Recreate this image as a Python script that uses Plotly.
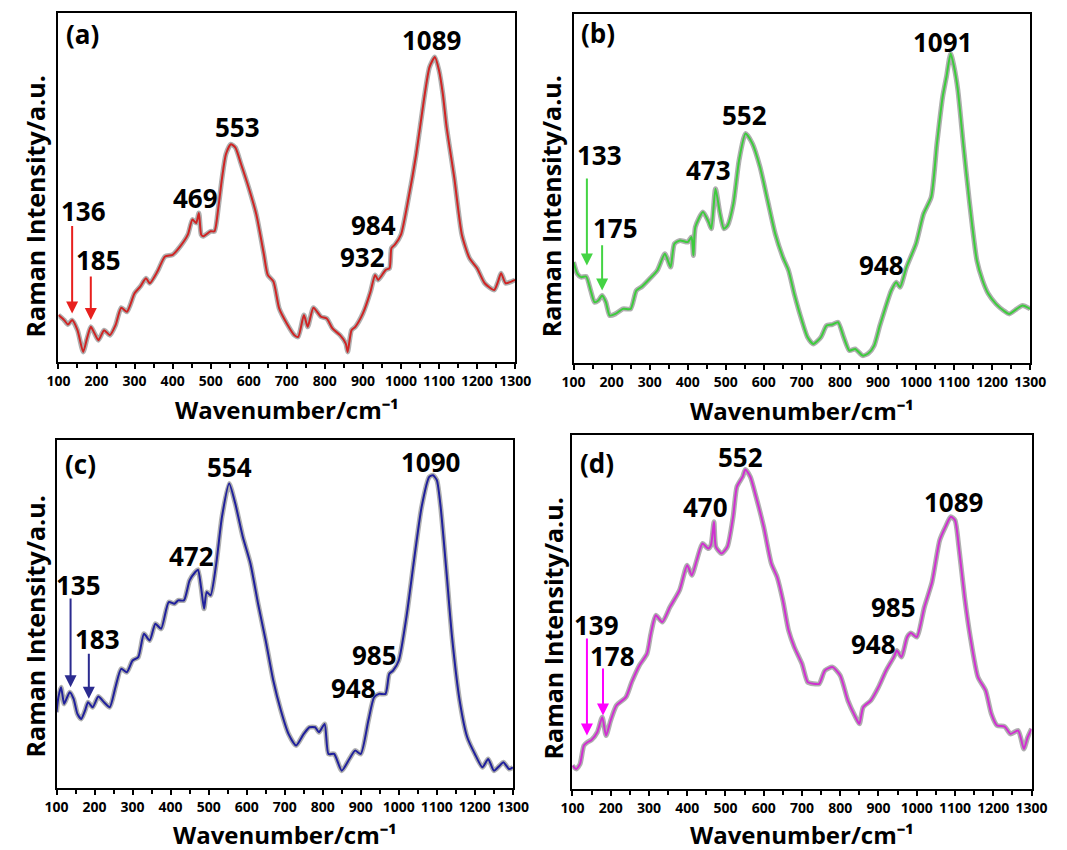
import plotly.graph_objects as go

# ---------------- data (arbitrary units) ----------------
wn_a = [100, 115, 125, 136, 150, 165, 175, 185, 195, 205, 220, 235, 250, 265, 280, 300, 315, 330, 340, 360,
        380, 400, 420, 440, 452, 462, 469, 475, 480, 500, 510, 520, 530, 540, 553, 565, 580, 600, 620, 640,
        650, 665, 680, 700, 720, 730, 745, 755, 770, 790, 805, 820, 840, 855, 860, 870, 880, 900, 920, 932,
        940, 960, 970, 975, 984, 1000, 1020, 1040, 1060, 1075, 1089, 1100, 1110, 1120, 1140, 1160, 1180,
        1200, 1220, 1245, 1255, 1263, 1275, 1290, 1300]
int_a = [140, 125, 112, 125, 95, 30, 70, 105, 85, 65, 95, 80, 110, 162, 150, 205, 225, 250, 235, 270,
         315, 320, 345, 380, 425, 415, 445, 380, 375, 390, 390, 460, 550, 620, 650, 640, 590, 520, 440, 320,
         260, 240, 160, 115, 80, 75, 140, 105, 162, 135, 130, 100, 80, 55, 30, 95, 105, 145, 210, 260,
         245, 275, 280, 340, 350, 380, 490, 620, 780, 880, 910, 870, 800, 700, 550, 380, 310,
         280, 235, 215, 240, 265, 235, 240, 245]

wn_b = [100, 110, 120, 133, 145, 155, 165, 175, 185, 195, 210, 230, 250, 265, 280, 300, 320, 340, 355, 365,
        380, 400, 410, 415, 420, 440, 455, 462, 473, 485, 495, 505, 520, 535, 552, 570, 590, 610, 630, 650,
        665, 680, 700, 715, 730, 750, 765, 780, 795, 810, 825, 840, 860, 875, 890, 905, 920, 935, 948, 958,
        975, 1000, 1020, 1040, 1055, 1070, 1080, 1091, 1100, 1110, 1125, 1140, 1160, 1175, 1190, 1210,
        1230, 1245, 1265, 1280, 1300]
int_b = [303, 268, 258, 260, 218, 183, 188, 203, 183, 143, 148, 163, 163, 218, 230, 253, 278, 328, 288, 358,
         368, 363, 378, 323, 408, 453, 423, 403, 523, 448, 403, 413, 478, 608, 688, 658, 588, 488, 388, 318,
         278, 208, 128, 78, 58, 78, 113, 116, 123, 78, 38, 43, 23, 30, 53, 113, 168, 218, 243, 228,
         288, 358, 448, 498, 658, 798, 858, 928, 888, 818, 648, 488, 308, 248, 208, 178,
         158, 148, 163, 173, 163]

wn_c = [100, 105, 112, 120, 128, 135, 145, 155, 165, 175, 183, 195, 210, 225, 240, 255, 270, 285, 300, 315,
        330, 345, 360, 375, 395, 410, 420, 435, 450, 465, 472, 480, 488, 495, 505, 520, 535, 554, 570, 590,
        610, 630, 650, 670, 690, 710, 730, 750, 765, 780, 790, 805, 815, 830, 850, 870, 885, 900, 920, 935,
        948, 965, 975, 985, 1000, 1020, 1040, 1060, 1080, 1090, 1100, 1110, 1125, 1140, 1160, 1180, 1200,
        1220, 1235, 1250, 1265, 1275, 1290, 1300]
int_c = [227, 272, 302, 252, 272, 287, 267, 222, 207, 232, 257, 242, 274, 257, 242, 302, 357, 347, 382, 392,
         462, 442, 492, 477, 557, 552, 562, 562, 622, 647, 654, 602, 537, 587, 577, 672, 812, 912, 852, 752,
         672, 552, 442, 322, 232, 162, 127, 162, 182, 182, 167, 192, 102, 102, 52, 87, 112, 102, 202, 272,
         282, 282, 342, 352, 382, 512, 682, 842, 932, 937, 922, 842, 652, 452, 262, 152, 102,
         62, 87, 52, 67, 77, 57, 62]

wn_d = [100, 110, 120, 130, 139, 150, 165, 178, 188, 200, 215, 240, 255, 275, 295, 305, 318, 335, 355, 380,
        400, 412, 425, 440, 455, 462, 470, 475, 490, 505, 520, 530, 545, 552, 565, 580, 600, 620, 635, 650,
        665, 680, 700, 715, 730, 745, 760, 780, 800, 820, 840, 850, 860, 880, 900, 920, 940, 948, 960, 975,
        985, 1000, 1020, 1040, 1060, 1075, 1089, 1100, 1110, 1125, 1140, 1160, 1180, 1195, 1210, 1230,
        1245, 1265, 1280, 1290, 1300]
int_d = [70, 60, 75, 130, 140, 147, 170, 215, 160, 205, 250, 275, 320, 370, 405, 465, 520, 500, 545, 595,
         670, 640, 685, 735, 720, 730, 800, 725, 705, 725, 815, 905, 935, 957, 935, 875, 785, 675, 635, 565,
         475, 425, 375, 320, 315, 315, 355, 365, 340, 265, 215, 195, 245, 265, 305, 355, 395, 415, 395, 455,
         467, 455, 545, 620, 745, 785, 815, 805, 725, 575, 455, 335, 295, 225, 190, 187,
         165, 175, 120, 155, 180]

panel_tags = ["(a)", "(b)", "(c)", "(d)"]
y_tops = [1040, 1046, 1044, 1060]
x_title = "Wavenumber/cm⁻¹"
y_title = "Raman Intensity/a.u."

# peak labels: (wavenumber position, intensity position, text)
labels_a = [(165, 450, "136"), (206, 305, "185"), (461, 490, "469"), (570, 700, "553"),
            (1080, 962, "1089"), (929, 410, "984"), (898, 312, "932")]
labels_b = [(168, 623, "133"), (209, 406, "175"), (455, 580, "473"), (550, 743, "552"),
            (1069, 963, "1091"), (910, 293, "948")]
labels_c = [(159, 607, "135"), (207, 447, "183"), (454, 694, "472"), (555, 962, "554"),
            (1083, 977, "1090"), (935, 398, "985"), (880, 300, "948")]
labels_d = [(164, 490, "139"), (204, 397, "178"), (447, 845, "470"), (540, 993, "552"),
            (1096, 860, "1089"), (939, 545, "985"), (887, 435, "948")]
tag_pos = [(164, 980), (163, 988), (163, 972), (164, 975)]

# arrows: (wavenumber, tail intensity, head intensity)
arrows_a = [(136, 410, 145), (185, 260, 125)]
arrows_b = [(135, 558, 293), (175, 358, 218)]
arrows_c = [(137, 572, 302), (185, 407, 267)]
arrows_d = [(138, 455, 160), (180, 365, 220)]

# ---------------- styling ----------------
line_colors = ["#cf2424", "#3ccc3c", "#20209c", "#d030d0"]
arrow_colors = ["#e8201e", "#44d444", "#2b2b8f", "#ff00ff"]
x_domains = [[0.04470, 0.48426], [0.54049, 0.97994], [0.04283, 0.48210], [0.53936, 0.98126]]
y_domains = [[0.57412, 0.98412], [0.57259, 0.98353], [0.07294, 0.48294], [0.07176, 0.48824]]
xtitle_pos = [(0.2645, 0.5188), (0.7603, 0.5165), (0.2625, 0.0188), (0.7603, 0.0188)]
ytitle_pos = [(0.0225, 0.7576), (0.5190, 0.7576), (0.0225, 0.2635), (0.5211, 0.2612)]

FONT = "Open Sans"
series = [(wn_a, int_a), (wn_b, int_b), (wn_c, int_c), (wn_d, int_d)]
labels = [labels_a, labels_b, labels_c, labels_d]
arrows = [arrows_a, arrows_b, arrows_c, arrows_d]

fig = go.Figure()
annotations = []
layout_axes = {}

for i in range(4):
    xn = "x" if i == 0 else f"x{i+1}"
    yn = "y" if i == 0 else f"y{i+1}"
    xs, ys = series[i]
    # grey halo (data-point circles)
    fig.add_trace(go.Scatter(x=xs, y=ys, xaxis=xn, yaxis=yn, mode="lines",
                             line=dict(color="rgba(110,110,110,0.55)", width=5, shape="spline", smoothing=0.6),
                             hoverinfo="skip", showlegend=False))
    fig.add_trace(go.Scatter(x=xs, y=ys, xaxis=xn, yaxis=yn, mode="lines",
                             line=dict(color=line_colors[i], width=2, shape="spline", smoothing=0.6),
                             showlegend=False))
    xa = "xaxis" if i == 0 else f"xaxis{i+1}"
    ya = "yaxis" if i == 0 else f"yaxis{i+1}"
    layout_axes[xa] = dict(domain=x_domains[i], anchor=yn, range=[100, 1300],
                           tickvals=list(range(100, 1301, 100)), tickangle=0,
                           ticks="outside", ticklen=5, tickwidth=1.5, tickcolor="black",
                           minor=dict(dtick=50, tick0=100, ticks="outside", ticklen=4, tickwidth=1.5,
                                      tickcolor="black"),
                           showline=True, linecolor="black", linewidth=2, mirror=True,
                           showgrid=False, zeroline=False,
                           tickfont=dict(family=FONT, size=14, color="black", weight="bold"))
    layout_axes[ya] = dict(domain=y_domains[i], anchor=xn, range=[0, y_tops[i]],
                           showticklabels=False, ticks="", showline=True, linecolor="black", linewidth=2,
                           mirror=True, showgrid=False, zeroline=False)
    xref = xn
    yref = yn
    # panel tag
    annotations.append(dict(x=tag_pos[i][0], y=tag_pos[i][1], xref=xref, yref=yref, text=panel_tags[i],
                            showarrow=False, font=dict(family=FONT, size=26, color="black", weight="bold")))
    for (lx, ly, t) in labels[i]:
        annotations.append(dict(x=lx, y=ly, xref=xref, yref=yref, text=t, showarrow=False,
                                font=dict(family=FONT, size=26, color="black", weight="bold")))
    for (ax_w, tail, head) in arrows[i]:
        annotations.append(dict(x=ax_w, y=head, ax=ax_w, ay=tail, xref=xref, yref=yref,
                                axref=xref, ayref=yref, text="", showarrow=True,
                                arrowhead=2, arrowsize=1.2, arrowwidth=2, arrowcolor=arrow_colors[i]))
    # axis titles
    annotations.append(dict(x=xtitle_pos[i][0], y=xtitle_pos[i][1], xref="paper", yref="paper",
                            text=x_title, showarrow=False, xanchor="center", yanchor="middle",
                            font=dict(family=FONT, size=24, color="black", weight="bold")))
    annotations.append(dict(x=ytitle_pos[i][0], y=ytitle_pos[i][1], xref="paper", yref="paper",
                            text=y_title, textangle=-90, showarrow=False,
                            xanchor="center", yanchor="middle",
                            font=dict(family=FONT, size=25, color="black", weight="bold")))

fig.update_layout(width=1067, height=850, margin=dict(l=0, r=0, t=0, b=0),
                  paper_bgcolor="white", plot_bgcolor="white", annotations=annotations,
                  **layout_axes)

fig.write_html("out.html")
